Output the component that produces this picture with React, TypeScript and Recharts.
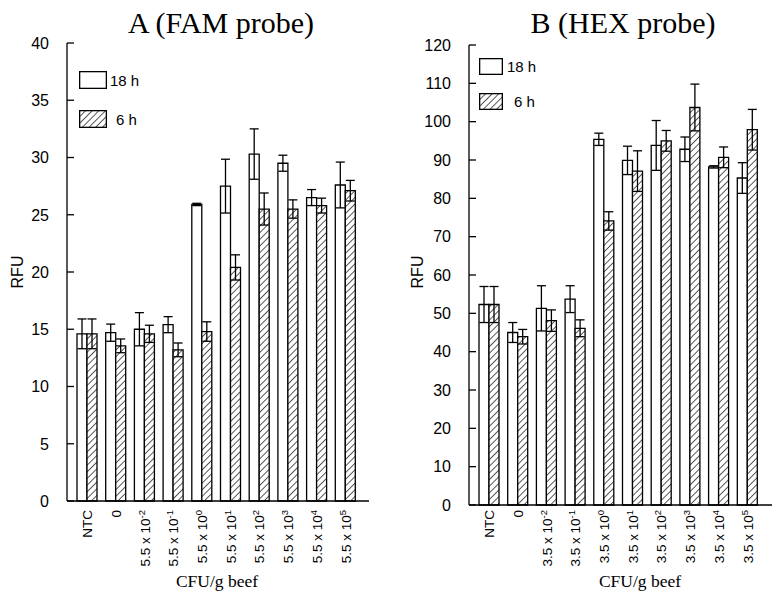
import { BarChart, Bar, XAxis, YAxis, ErrorBar, Legend } from "recharts";

// x categories (text after "^" is the exponent)
const famCats = ["NTC", "0", "5.5 x 10^-2", "5.5 x 10^-1", "5.5 x 10^0", "5.5 x 10^1", "5.5 x 10^2", "5.5 x 10^3", "5.5 x 10^4", "5.5 x 10^5"];
const hexCats = ["NTC", "0", "3.5 x 10^-2", "3.5 x 10^-1", "3.5 x 10^0", "3.5 x 10^1", "3.5 x 10^2", "3.5 x 10^3", "3.5 x 10^4", "3.5 x 10^5"];

// A (FAM probe)
const famH18 = [14.6, 14.7, 15.0, 15.4, 25.9, 27.5, 30.3, 29.5, 26.5, 27.6];
const famH18Err = [1.3, 0.75, 1.45, 0.7, 0.1, 2.35, 2.2, 0.7, 0.7, 2.0];
const famH6 = [14.6, 13.55, 14.6, 13.2, 14.8, 20.4, 25.5, 25.5, 25.8, 27.1];
const famH6Err = [1.3, 0.6, 0.75, 0.6, 0.85, 1.1, 1.4, 0.8, 0.65, 0.9];

// B (HEX probe)
const hexH18 = [52.3, 45.0, 51.3, 53.7, 95.4, 89.9, 93.8, 92.8, 88.2, 85.3];
const hexH18Err = [4.7, 2.6, 5.9, 3.5, 1.6, 3.7, 6.5, 3.2, 0.3, 4.0];
const hexH6 = [52.3, 43.9, 48.1, 46.1, 74.1, 87.1, 95.0, 103.7, 90.7, 97.9];
const hexH6Err = [4.7, 1.9, 2.8, 2.2, 2.4, 5.3, 2.7, 6.1, 2.7, 5.3];

const famTicks = [0, 5, 10, 15, 20, 25, 30, 35, 40];
const hexTicks = [0, 10, 20, 30, 40, 50, 60, 70, 80, 90, 100, 110, 120];

const SANS = "'Liberation Sans', Arial, Helvetica, sans-serif";
const SERIF = "'Liberation Serif', 'Times New Roman', Times, serif";
const INK = "#000";
const LINE = 1.3;

const famData = famCats.map((cat, i) => ({
  cat,
  h18: famH18[i],
  h18Err: famH18Err[i],
  h6: famH6[i],
  h6Err: famH6Err[i],
}));
const hexData = hexCats.map((cat, i) => ({
  cat,
  h18: hexH18[i],
  h18Err: hexH18Err[i],
  h6: hexH6[i],
  h6Err: hexH6Err[i],
}));

function Hatch({ id }: { id: string }) {
  return (
    <pattern id={id} patternUnits="userSpaceOnUse" width="4.7" height="4.7" patternTransform="rotate(45)">
      <rect width="4.7" height="4.7" fill="#fff" />
      <line x1="0" y1="0" x2="0" y2="4.7" stroke={INK} strokeWidth="1.3" />
    </pattern>
  );
}

const YTick = ({ x, y, payload }: any) => (
  <g>
    <line x1={x} x2={x + 7} y1={y} y2={y} stroke={INK} strokeWidth={LINE} />
    <text x={x - 18} y={y} dy="0.36em" textAnchor="end" fontSize={16} fontFamily={SANS} fill={INK}>
      {payload.value}
    </text>
  </g>
);

const makeXTick = (gap: number) => ({ x, y, payload }: any) => {
  const [base, exp] = String(payload.value).split("^");
  return (
    <g transform={`translate(${x},${y})`}>
      <text transform="rotate(-90)" x={-gap} y={0} dy="0.36em" textAnchor="end" fontSize={13.5} fontFamily={SANS} fill={INK}>
        {base}
        {exp && (
          <tspan dy={-5} fontSize={9.5}>
            {exp}
          </tspan>
        )}
      </text>
    </g>
  );
};

const makeLegend = (boxW: number, boxH: number, rowGap: number, textGaps: number[], hatchId: string) => (props: any) => (
  <div style={{ fontFamily: SANS, fontSize: 15, color: INK }}>
    {(props.payload || []).map((item: any, i: number) => (
      <div key={item.value} style={{ display: "flex", alignItems: "center", height: boxH, marginBottom: i === 0 ? rowGap : 0 }}>
        <svg width={boxW} height={boxH} style={{ display: "block" }}>
          <defs>
            <Hatch id={hatchId} />
          </defs>
          <rect x={0.65} y={0.65} width={boxW - 1.3} height={boxH - 1.3} fill={item.dataKey === "h6" ? `url(#${hatchId})` : "#fff"} stroke={INK} strokeWidth={LINE} />
        </svg>
        <span style={{ marginLeft: textGaps[i] }}>{item.value}</span>
      </div>
    ))}
  </div>
);

type PanelProps = {
  data: any[];
  width: number;
  margin: { top: number; right: number; bottom: number; left: number };
  yWidth: number;
  domain: [number, number];
  ticks: number[];
  pad: { left: number; right: number };
  tickGap: number;
  hatchId: string;
  legend: (props: any) => any;
  legendPos: { left: number; top: number };
};

function Panel({ data, width, margin, yWidth, domain, ticks, pad, tickGap, hatchId, legend, legendPos }: PanelProps) {
  return (
    <BarChart width={width} height={599} data={data} margin={margin} barGap={0} barSize={10}>
      <defs>
        <Hatch id={hatchId} />
      </defs>
      <XAxis
        dataKey="cat"
        interval={0}
        height={90}
        padding={pad}
        tickLine={false}
        tickSize={0}
        tickMargin={0}
        tick={makeXTick(tickGap)}
        axisLine={{ stroke: INK, strokeWidth: LINE }}
      />
      <XAxis xAxisId="top" orientation="top" dataKey="cat" height={0} tick={false} tickLine={false} axisLine={{ stroke: INK, strokeWidth: LINE }} />
      <YAxis
        width={yWidth}
        domain={domain}
        ticks={ticks}
        interval={0}
        tickLine={false}
        tickSize={0}
        tickMargin={0}
        tick={<YTick />}
        axisLine={{ stroke: INK, strokeWidth: LINE }}
      />
      <YAxis yAxisId="right" orientation="right" width={0} domain={domain} tick={false} tickLine={false} axisLine={{ stroke: INK, strokeWidth: LINE }} />
      <Legend
        layout="vertical"
        align="center"
        verticalAlign="middle"
        content={legend}
        wrapperStyle={{ left: legendPos.left, top: legendPos.top, width: 90, height: 60 }}
      />
      <Bar dataKey="h18" name="18 h" fill="#fff" stroke={INK} strokeWidth={LINE} isAnimationActive={false}>
        <ErrorBar dataKey="h18Err" direction="y" width={4.5} stroke={INK} strokeWidth={LINE} />
      </Bar>
      <Bar dataKey="h6" name="6 h" fill={`url(#${hatchId})`} stroke={INK} strokeWidth={LINE} isAnimationActive={false}>
        <ErrorBar dataKey="h6Err" direction="y" width={4.5} stroke={INK} strokeWidth={LINE} />
      </Bar>
    </BarChart>
  );
}

export default function App() {
  return (
    <div style={{ position: "absolute", left: 0, top: 0, width: 782, height: 599, background: "#fff", overflow: "hidden" }}>
      <svg width={782} height={599} style={{ position: "absolute", left: 0, top: 0 }}>
        <text x={221} y={33} textAnchor="middle" fontFamily={SERIF} fontSize={30} fill={INK}>
          A (FAM probe)
        </text>
        <text x={623} y={33} textAnchor="middle" fontFamily={SERIF} fontSize={30} fill={INK}>
          B (HEX probe)
        </text>
        <text x={217} y={587} textAnchor="middle" fontFamily={SERIF} fontSize={17.5} fill={INK}>
          CFU/g beef
        </text>
        <text x={640} y={587} textAnchor="middle" fontFamily={SERIF} fontSize={17.5} fill={INK}>
          CFU/g beef
        </text>
        <text transform="translate(17,272) rotate(-90)" dy="0.36em" textAnchor="middle" fontFamily={SANS} fontSize={16} fill={INK}>
          RFU
        </text>
        <text transform="translate(417,272) rotate(-90)" dy="0.36em" textAnchor="middle" fontFamily={SANS} fontSize={16} fill={INK}>
          RFU
        </text>
      </svg>
      <div style={{ position: "absolute", left: 0, top: 0 }}>
        <Panel
          data={famData}
          width={400}
          margin={{ top: 43, right: 31, bottom: 8, left: 0 }}
          yWidth={67}
          domain={[0, 40]}
          ticks={famTicks}
          pad={{ left: 6, right: 9 }}
          tickGap={9}
          hatchId="hatchFam"
          legend={makeLegend(28, 18, 21, [3, 9], "hatchFamLeg")}
          legendPos={{ left: 79, top: 71 }}
        />
      </div>
      <div style={{ position: "absolute", left: 390, top: 0 }}>
        <Panel
          data={hexData}
          width={392}
          margin={{ top: 45, right: 10, bottom: 4, left: 0 }}
          yWidth={79}
          domain={[0, 120]}
          ticks={hexTicks}
          pad={{ left: 6, right: 10 }}
          tickGap={5}
          hatchId="hatchHex"
          legend={makeLegend(24, 17, 18, [4, 11], "hatchHexLeg")}
          legendPos={{ left: 89, top: 58 }}
        />
      </div>
    </div>
  );
}
